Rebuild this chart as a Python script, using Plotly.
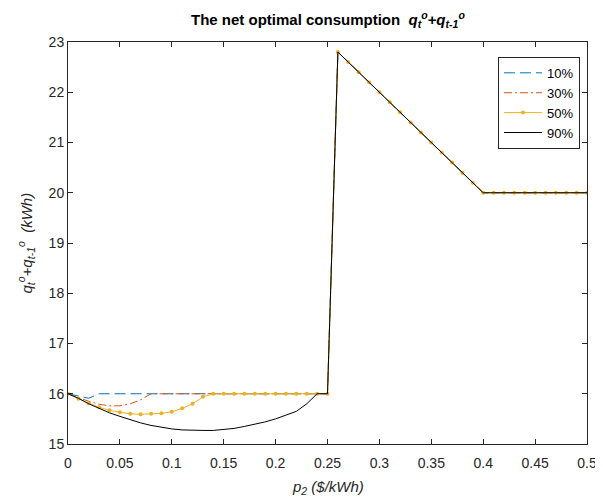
import plotly.graph_objects as go

# x values (p2, $/kWh)
p2 = [0.00, 0.01, 0.02, 0.03, 0.04, 0.05, 0.06, 0.07, 0.08, 0.09,
      0.10, 0.11, 0.12, 0.13, 0.14, 0.15, 0.16, 0.17, 0.18, 0.19,
      0.20, 0.21, 0.22, 0.23, 0.24, 0.25, 0.26, 0.27, 0.28, 0.29,
      0.30, 0.31, 0.32, 0.33, 0.34, 0.35, 0.36, 0.37, 0.38, 0.39,
      0.40, 0.41, 0.42, 0.43, 0.44, 0.45, 0.46, 0.47, 0.48, 0.49, 0.50]

# shared part for p2 = 0.26 ... 0.50
tail = [22.80, 22.60, 22.40, 22.20, 22.00, 21.80, 21.60, 21.40, 21.20, 21.00,
        20.80, 20.60, 20.40, 20.20, 20.00,
        20.00, 20.00, 20.00, 20.00, 20.00, 20.00, 20.00, 20.00, 20.00, 20.00]

# p2 = 0.00 ... 0.25
q10_low = [16.00, 15.95, 15.91, 16.00, 16.00, 16.00, 16.00, 16.00, 16.00, 16.00,
           16.00, 16.00, 16.00, 16.00, 16.00, 16.00, 16.00, 16.00, 16.00, 16.00,
           16.00, 16.00, 16.00, 16.00, 16.00, 16.00]
q30_low = [16.00, 15.92, 15.85, 15.79, 15.76, 15.76, 15.80, 15.88, 16.00, 16.00,
           16.00, 16.00, 16.00, 16.00, 16.00, 16.00, 16.00, 16.00, 16.00, 16.00,
           16.00, 16.00, 16.00, 16.00, 16.00, 16.00]
q50_low = [16.00, 15.90, 15.81, 15.73, 15.67, 15.63, 15.60, 15.59, 15.60, 15.61,
           15.64, 15.71, 15.80, 15.94, 16.00, 16.00, 16.00, 16.00, 16.00, 16.00,
           16.00, 16.00, 16.00, 16.00, 16.00, 16.00]
q90_low = [16.00, 15.91, 15.80, 15.71, 15.62, 15.55, 15.48, 15.42, 15.37, 15.33,
           15.30, 15.28, 15.27, 15.27, 15.27, 15.29, 15.31, 15.35, 15.39, 15.44,
           15.50, 15.57, 15.65, 15.80, 16.00, 16.00]

names = ["10%", "30%", "50%", "90%"]
xticks = [0, 0.05, 0.1, 0.15, 0.2, 0.25, 0.3, 0.35, 0.4, 0.45, 0.5]
xticklabels = ["0", "0.05", "0.1", "0.15", "0.2", "0.25", "0.3", "0.35", "0.4", "0.45", "0.5"]
yticks = [15, 16, 17, 18, 19, 20, 21, 22, 23]

FONT = "Liberation Sans, Arial, Helvetica, sans-serif"
AX = "#262626"

fig = go.Figure()
fig.add_trace(go.Scatter(x=p2, y=q10_low + tail, name=names[0], mode="lines",
                         line=dict(color="#0072BD", width=1, dash="11px,5px")))
fig.add_trace(go.Scatter(x=p2, y=q30_low + tail, name=names[1], mode="lines",
                         line=dict(color="#D95319", width=1, dash="8px,3px,2px,3px")))
fig.add_trace(go.Scatter(x=p2, y=q50_low + tail, name=names[2], mode="lines+markers",
                         line=dict(color="#EDB120", width=1),
                         marker=dict(color="#EDB120", size=4)))
fig.add_trace(go.Scatter(x=p2, y=q90_low + tail, name=names[3], mode="lines",
                         line=dict(color="#000000", width=1)))

axis_common = dict(showgrid=False, zeroline=False, showline=True, linecolor=AX, linewidth=1,
                   mirror="allticks", ticks="inside", ticklen=5, tickcolor=AX,
                   automargin=False,
                   tickfont=dict(family=FONT, size=14, color=AX))

fig.update_xaxes(range=[0, 0.5], tickvals=xticks, ticktext=xticklabels,
                 ticklabelstandoff=6, **axis_common)
fig.update_yaxes(range=[15, 23], tickvals=yticks, **axis_common)

# page body has an 8px margin: shift the figure so the plot box lands where the reference has it
fig.update_layout(
    width=595, height=493,
    margin=dict(l=60, r=16, t=34, b=57),
    paper_bgcolor="white", plot_bgcolor="white",
    showlegend=True,
    legend=dict(x=0.9865, y=0.963, xanchor="right", yanchor="top",
                bgcolor="white", bordercolor=AX, borderwidth=1,
                font=dict(family=FONT, size=13, color="#000000"),
                itemwidth=38, tracegroupgap=0),
    annotations=[
        dict(text="<b>The net optimal consumption  <i>q<sub>t</sub><sup>o</sup>+q<sub>t-1</sub><sup>o</sup></i></b>",
             x=0.5, y=1, xref="paper", yref="paper", xanchor="center", yanchor="bottom",
             yshift=10, showarrow=False, font=dict(family=FONT, size=15, color="#000000")),
        dict(text="<i>p<sub>2</sub> ($/kWh)</i>",
             x=0.5, y=0, xref="paper", yref="paper", xanchor="center", yanchor="top",
             yshift=-32, showarrow=False, font=dict(family=FONT, size=15, color=AX)),
        dict(text="<i>q<sub>t</sub><sup>o</sup>+q<sub>t-1</sub><sup>o</sup>  (kWh)</i>",
             x=0, y=0.5, xref="paper", yref="paper", xanchor="right", yanchor="middle",
             xshift=-30, textangle=-90, showarrow=False,
             font=dict(family=FONT, size=15, color=AX)),
    ],
)

fig.write_html("out.html")
